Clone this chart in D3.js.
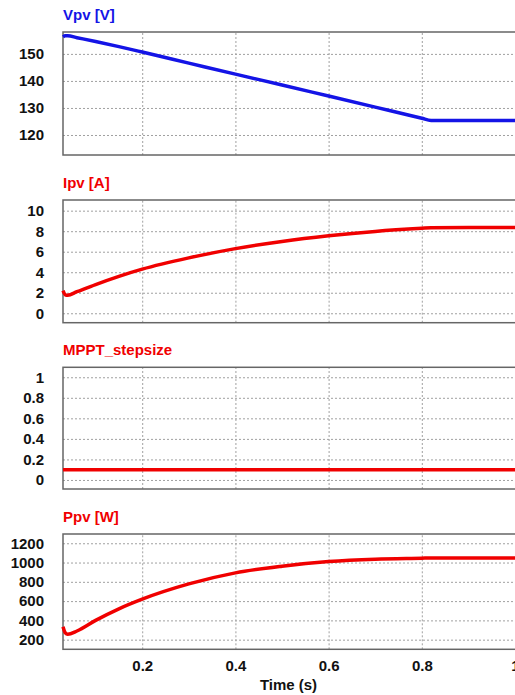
<!DOCTYPE html>
<html>
<head>
<meta charset="utf-8">
<script src="https://cdn.jsdelivr.net/npm/d3@7"></script>
<style>
  html, body { margin: 0; padding: 0; background: #fff; overflow: hidden; }
  svg { display: block; }
  text { font-family: Arial, "Liberation Sans", sans-serif; font-weight: bold; }
</style>
</head>
<body>
<svg id="chart" width="515" height="695"></svg>
<script>
// Simulation time samples (s)
const time = [0.03, 0.035, 0.04, 0.06, 0.1, 0.15, 0.2, 0.3, 0.4, 0.5, 0.6, 0.7, 0.8, 0.82, 0.9, 1.0];

// PV voltage [V]
const vpv = [156.3, 156.7, 156.7, 156.0, 154.6, 152.7, 150.7, 146.6, 142.5, 138.5, 134.4, 130.3, 126.2, 125.4, 125.4, 125.4];

// PV current [A]
const ipv = [2.2, 1.8, 1.75, 2.1, 2.8, 3.6, 4.3, 5.4, 6.3, 7.0, 7.55, 7.98, 8.28, 8.33, 8.35, 8.35];

// MPPT step size
const stepsize = [0.1, 0.1, 0.1, 0.1, 0.1, 0.1, 0.1, 0.1, 0.1, 0.1, 0.1, 0.1, 0.1, 0.1, 0.1, 0.1];

// PV power [W]
const ppv = [335, 270, 255, 290, 400, 520, 620, 778, 893, 962, 1010, 1035, 1045, 1047, 1047, 1047];

// Tick labels
const timeTicks = [0.2, 0.4, 0.6, 0.8, 1];
const vpvTicks = [120, 130, 140, 150];
const ipvTicks = [0, 2, 4, 6, 8, 10];
const stepTicks = [0, 0.2, 0.4, 0.6, 0.8, 1];
const ppvTicks = [200, 400, 600, 800, 1000, 1200];

const panels = [
  { title: "Vpv [V]", color: "#1414e6", values: vpv, ticks: vpvTicks, domain: [112.6, 158.1], top: 32, bottom: 155 },
  { title: "Ipv [A]", color: "#f00000", values: ipv, ticks: ipvTicks, domain: [-0.92, 11.04], top: 200, bottom: 322.7 },
  { title: "MPPT_stepsize", color: "#f00000", values: stepsize, ticks: stepTicks, domain: [-0.088, 1.097], top: 367.3, bottom: 489 },
  { title: "Ppv [W]", color: "#f00000", values: ppv, ticks: ppvTicks, domain: [100, 1296], top: 534, bottom: 649.3 }
];

const svg = d3.select("#chart");
const left = 63, right = 515;
const x = d3.scaleLinear().domain([0.03, 1.0]).range([left, right]);

panels.forEach((p, i) => {
  const y = d3.scaleLinear().domain(p.domain).range([p.bottom, p.top]);
  const g = svg.append("g");

  // horizontal grid
  g.append("g")
    .attr("transform", `translate(${left},0)`)
    .call(d3.axisLeft(y).tickValues(p.ticks).tickSize(-(right - left + 5)).tickFormat(""))
    .call(a => a.select(".domain").remove())
    .call(a => a.selectAll("line").attr("stroke", "#a0a0a0").attr("stroke-dasharray", "2,2"));

  // vertical grid
  g.append("g")
    .attr("transform", `translate(0,${p.bottom})`)
    .call(d3.axisBottom(x).tickValues(timeTicks).tickSize(-(p.bottom - p.top)).tickFormat(""))
    .call(a => a.select(".domain").remove())
    .call(a => a.selectAll("line").attr("stroke", "#a0a0a0").attr("stroke-dasharray", "2,2"));

  // y tick labels
  g.append("g")
    .attr("transform", `translate(44,0)`)
    .call(d3.axisLeft(y).tickValues(p.ticks).tickSize(0).tickPadding(0).tickFormat(d3.format("")))
    .call(a => a.select(".domain").remove())
    .call(a => a.selectAll("text")
      .attr("font-size", 15).attr("font-weight", "bold").attr("fill", "#111")
      .attr("font-family", "Arial, 'Liberation Sans', sans-serif"));

  // frame
  g.append("rect")
    .attr("x", left).attr("y", p.top)
    .attr("width", right - left + 5).attr("height", p.bottom - p.top)
    .attr("fill", "none").attr("stroke", "#666").attr("stroke-width", 1.5);

  // title
  g.append("text")
    .attr("x", left).attr("y", p.top - 12)
    .attr("font-size", 15).attr("fill", p.color)
    .text(p.title);

  // data line
  const line = d3.line()
    .x((d, k) => x(time[k]))
    .y(d => y(d))
    .curve(d3.curveMonotoneX);
  g.append("path")
    .datum(p.values)
    .attr("d", line)
    .attr("fill", "none")
    .attr("stroke", p.color)
    .attr("stroke-width", 3.5)
    .attr("stroke-linejoin", "round");

  // time axis labels on the last panel
  if (i === panels.length - 1) {
    svg.append("g")
      .attr("transform", `translate(0,${p.bottom})`)
      .call(d3.axisBottom(x).tickValues(timeTicks).tickSize(0).tickPadding(11).tickFormat(d3.format("")))
      .call(a => a.select(".domain").remove())
      .call(a => a.selectAll("text")
        .attr("font-size", 15).attr("font-weight", "bold").attr("fill", "#111")
        .attr("font-family", "Arial, 'Liberation Sans', sans-serif"));
    svg.append("text")
      .attr("x", 288.5).attr("y", 690)
      .attr("text-anchor", "middle")
      .attr("font-size", 15).attr("fill", "#111")
      .text("Time (s)");
  }
});
</script>
</body>
</html>
